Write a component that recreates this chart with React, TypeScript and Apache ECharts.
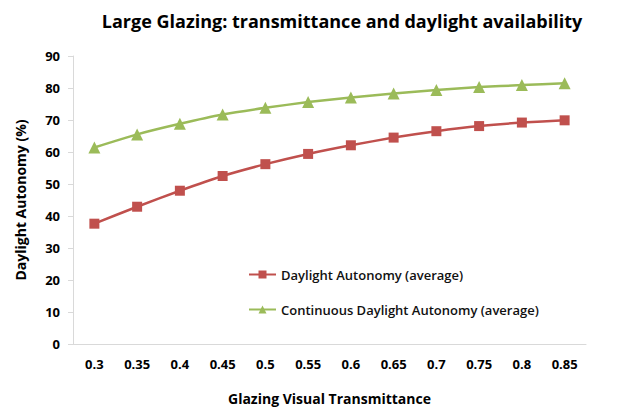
import React, { useEffect, useRef } from "react";
import * as echarts from "echarts";

const categories = ["0.3", "0.35", "0.4", "0.45", "0.5", "0.55", "0.6", "0.65", "0.7", "0.75", "0.8", "0.85"];
const daylightAutonomy = [37.6, 42.9, 47.9, 52.5, 56.2, 59.4, 62.1, 64.5, 66.5, 68.1, 69.2, 69.9];
const continuousDA = [61.4, 65.5, 68.8, 71.7, 73.8, 75.6, 77.0, 78.3, 79.4, 80.3, 80.9, 81.5];
const seriesNames = ["Daylight Autonomy (average)", "Continuous Daylight Autonomy (average)"];

const FONT = "'Open Sans', 'Liberation Sans', sans-serif";

export default function App() {
  const ref = useRef<HTMLDivElement>(null);
  useEffect(() => {
    if (!ref.current) return;
    const chart = echarts.init(ref.current, undefined, { renderer: "svg" });
    chart.setOption({
      animation: false,
      backgroundColor: "#ffffff",
      title: {
        text: "Large Glazing: transmittance and daylight availability",
        left: 337,
        textAlign: "center",
        top: 7,
        textStyle: { fontFamily: FONT, fontSize: 18, fontWeight: "bold", color: "#000" },
      },
      legend: {
        orient: "vertical",
        left: 243,
        top: 263,
        itemGap: 22,
        itemWidth: 27,
        itemHeight: 10,
        textStyle: { fontFamily: FONT, fontSize: 13, fontWeight: 600, color: "#111" },
        data: seriesNames,
      },
      grid: { left: 73, right: 31, top: 56, bottom: 58, containLabel: false },
      xAxis: {
        type: "category",
        data: categories,
        boundaryGap: true,
        name: "Glazing Visual Transmittance",
        nameLocation: "middle",
        nameGap: 47,
        nameTextStyle: { fontFamily: FONT, fontSize: 14, fontWeight: "bold", color: "#000" },
        axisLine: { lineStyle: { color: "#d9d9d9", width: 1 } },
        axisTick: { show: false },
        axisLabel: { fontFamily: FONT, fontSize: 13, fontWeight: "bold", color: "#000", margin: 13 },
      },
      yAxis: {
        type: "value",
        min: 0,
        max: 90,
        interval: 10,
        name: "Daylight Autonomy (%)",
        nameLocation: "middle",
        nameGap: 46,
        nameTextStyle: { fontFamily: FONT, fontSize: 14, fontWeight: "bold", color: "#000" },
        axisLine: { show: true, lineStyle: { color: "#d9d9d9", width: 1 } },
        axisTick: { show: true, length: 5, lineStyle: { color: "#d9d9d9" } },
        splitLine: { show: false },
        axisLabel: { fontFamily: FONT, fontSize: 13, fontWeight: "bold", color: "#000", margin: 13 },
      },
      series: [
        {
          name: seriesNames[0],
          type: "line",
          data: daylightAutonomy,
          smooth: 0.2,
          symbol: "rect",
          symbolSize: 10,
          itemStyle: { color: "#c0504d" },
          lineStyle: { color: "#c0504d", width: 2.5 },
        },
        {
          name: seriesNames[1],
          type: "line",
          data: continuousDA,
          smooth: 0.2,
          symbol: "triangle",
          symbolSize: 12,
          itemStyle: { color: "#9bbb59" },
          lineStyle: { color: "#9bbb59", width: 2.5 },
        },
      ],
    });
    return () => chart.dispose();
  }, []);
  return (
    <div
      ref={ref}
      style={{ position: "fixed", left: 0, top: 0, width: 617, height: 410, background: "#fff" }}
    />
  );
}
